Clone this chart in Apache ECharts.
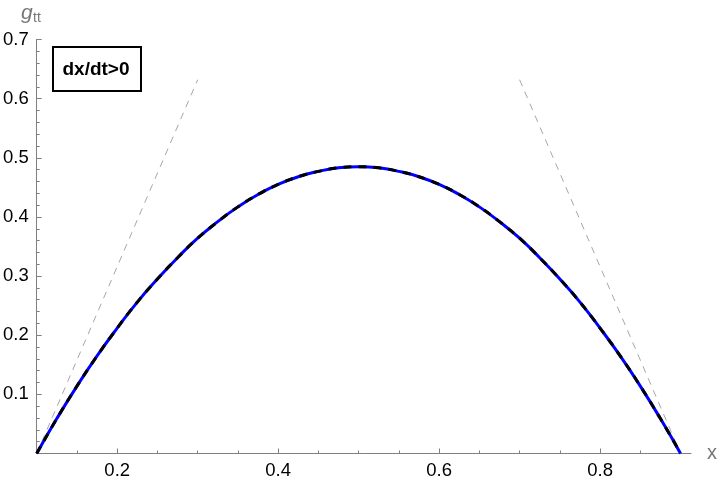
<!DOCTYPE html>
<html>
<head>
<meta charset="utf-8">
<script src="https://cdn.jsdelivr.net/npm/echarts@6/dist/echarts.min.js"></script>
<style>
  html, body { margin: 0; padding: 0; background: #fff; }
  #chart { width: 720px; height: 488px; }
</style>
</head>
<body>
<div id="chart"></div>
<script>
  // values
  const xs = [0.1, 0.125, 0.15, 0.175, 0.2, 0.225, 0.25, 0.275, 0.3, 0.325, 0.35, 0.375, 0.4,
    0.425, 0.45, 0.475, 0.5, 0.525, 0.55, 0.575, 0.6, 0.625, 0.65, 0.675, 0.7, 0.725, 0.75,
    0.775, 0.8, 0.825, 0.85, 0.875, 0.9]
  const gttExact = [0, 0.059, 0.114, 0.165, 0.212, 0.256, 0.295, 0.331, 0.364, 0.392, 0.417,
    0.438, 0.455, 0.468, 0.477, 0.483, 0.485, 0.483, 0.477, 0.468, 0.455, 0.438, 0.417, 0.392,
    0.364, 0.331, 0.295, 0.256, 0.212, 0.165, 0.114, 0.059, 0]
  const gttApprox = gttExact.slice()
  const leftAsymX = [0.1, 0.3]
  const leftAsymY = [0, 0.632]
  const rightAsymX = [0.7, 0.9]
  const rightAsymY = [0.632, 0]
  const xMajorTicks = [0.2, 0.4, 0.6, 0.8]
  const xMinorTicks = [0.15, 0.25, 0.3, 0.35, 0.45, 0.5, 0.55, 0.65, 0.7, 0.75, 0.85]

  const pairs = (a, b) => a.map((v, i) => [v, b[i]])

  const axisGray = '#808080'
  const chart = echarts.init(document.getElementById('chart'))

  chart.setOption({
    animation: false,
    grid: { left: 33.5, right: 29, top: 39.5, bottom: 34.5 },
    xAxis: [{
      type: 'value',
      min: 0.1,
      max: 0.913,
      name: 'x',
      nameLocation: 'end',
      nameGap: 16,
      nameTextStyle: { color: '#777', fontSize: 20, fontFamily: 'Liberation Sans', verticalAlign: 'middle', padding: [0, 0, 2, 0] },
      axisLine: { onZero: false, lineStyle: { color: axisGray, width: 1 } },
      axisTick: { inside: true, length: 5, customValues: xMajorTicks, lineStyle: { color: axisGray } },
      axisLabel: { customValues: xMajorTicks, margin: 8, color: '#000', fontSize: 18.5, fontFamily: 'Liberation Sans' },
      splitLine: { show: false }
    }, {
      type: 'value',
      min: 0.1,
      max: 0.913,
      position: 'bottom',
      axisLine: { show: false },
      axisTick: { inside: true, length: 3, customValues: xMinorTicks, lineStyle: { color: axisGray } },
      axisLabel: { show: false },
      splitLine: { show: false }
    }],
    yAxis: {
      type: 'value',
      min: 0,
      max: 0.7,
      interval: 0.1,
      axisLine: { show: true, onZero: false, lineStyle: { color: axisGray, width: 1 } },
      axisTick: { show: true, inside: true, length: 5, lineStyle: { color: axisGray } },
      minorTick: { show: true, splitNumber: 5, length: 3, lineStyle: { color: axisGray } },
      axisLabel: {
        margin: 8,
        color: '#000',
        fontSize: 18.5,
        fontFamily: 'Liberation Sans',
        formatter: v => (v === 0 ? '' : v.toFixed(1))
      },
      splitLine: { show: false }
    },
    graphic: [
      { type: 'text', left: 21, top: 3, style: { text: 'g', fill: '#777', font: 'italic 21px "Liberation Sans"' } },
      { type: 'text', left: 33, top: 11, style: { text: 'tt', fill: '#777', font: '14px "Liberation Sans"' } },
      {
        type: 'rect',
        shape: { x: 53, y: 47, width: 88, height: 44 },
        style: { fill: '#fff', stroke: '#000', lineWidth: 2 },
        z: 10
      },
      {
        type: 'text',
        x: 96,
        y: 70,
        z: 11,
        style: { text: 'dx/dt>0', fill: '#000', font: 'bold 19px "Liberation Sans"', align: 'center', verticalAlign: 'middle' }
      }
    ],
    series: [
      {
        type: 'line',
        data: pairs(leftAsymX, leftAsymY),
        showSymbol: false,
        lineStyle: { color: '#a6a6a6', width: 1, type: [7, 6] }
      },
      {
        type: 'line',
        data: pairs(rightAsymX, rightAsymY),
        showSymbol: false,
        lineStyle: { color: '#a6a6a6', width: 1, type: [7, 6] }
      },
      {
        type: 'line',
        data: pairs(xs, gttExact),
        smooth: true,
        showSymbol: false,
        lineStyle: { color: '#0000ff', width: 3 }
      },
      {
        type: 'line',
        data: pairs(xs, gttApprox),
        smooth: true,
        showSymbol: false,
        lineStyle: { color: '#000', width: 3, type: [8, 7] }
      }
    ]
  })
</script>
</body>
</html>
